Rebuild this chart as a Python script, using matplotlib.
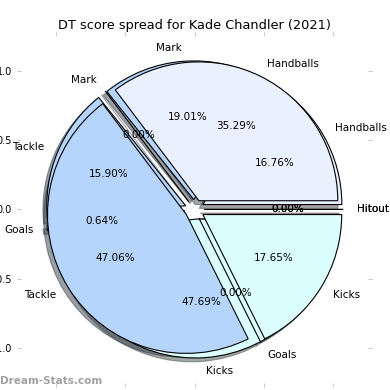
import matplotlib
matplotlib.use("Agg")
import matplotlib.pyplot as plt

labels = ["Handballs", "Mark", "Tackle", "Goals", "Kicks", "Hitout"]
values_a = [35.29, 0.0, 47.06, 0.0, 17.65, 0.0]
values_b = [16.76, 19.01, 15.90, 0.64, 47.69, 0.0]
colors = ["#e9f0fe", "#b5d5fd", "#b5d5fd", "#c9e6ff", "#dbfffe", "#ffffff"]
ticks = [-1.0, -0.5, 0.0, 0.5, 1.0]
title = "DT score spread for Kade Chandler (2021)"
watermark = "Dream-Stats.com"

fig = plt.figure(figsize=(3.9, 3.9), dpi=100)
ax = fig.add_axes([0.054, 0.018, 0.89, 0.89])

common = dict(labels=labels, colors=colors, autopct="%1.2f%%", shadow=True,
              wedgeprops=dict(edgecolor="black", linewidth=0.8),
              textprops=dict(fontsize=7.5), frame=True)
ax.pie(values_b, explode=[0.07] * 6, **common)
ax.pie(values_a, explode=[0.07] * 6, **common)

ax.set_xlim(-1.25, 1.25)
ax.set_ylim(-1.25, 1.25)
ax.set_xticks(ticks)
ax.set_yticks(ticks)
for s in ax.spines.values():
    s.set_visible(False)
ax.tick_params(axis="both", which="both", length=3, color="#cccccc",
               labelsize=7, top=True, right=True)
ax.set_title(title, fontsize=9.3, pad=5)
fig.text(0.0, 0.016, watermark, fontsize=7.5, color="#8a8a8a", fontweight="bold", alpha=0.8)

fig.savefig("out.png", dpi=100)
